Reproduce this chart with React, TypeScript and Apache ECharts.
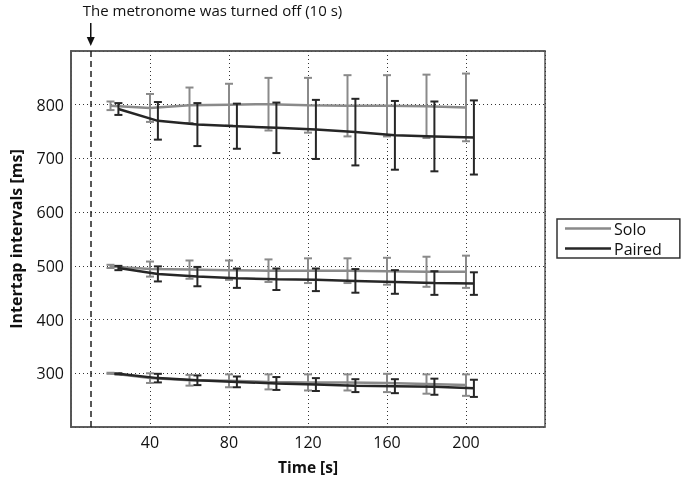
import React, { useEffect, useRef } from "react";
import * as echarts from "echarts";

const soloX = [20, 40, 60, 80, 100, 120, 140, 160, 180, 200];
const pairedX = [24, 44, 64, 84, 104, 124, 144, 164, 184, 204];

const solo800 = [798, 794, 799, 800, 801, 799, 798, 798, 797, 795];
const solo800Err = [8, 26, 33, 39, 49, 51, 57, 57, 59, 63];
const paired800 = [792, 770, 763, 760, 757, 754, 749, 743, 741, 739];
const paired800Err = [11, 35, 40, 42, 47, 55, 62, 64, 65, 69];

const solo500 = [499, 494, 493, 492, 491, 491, 491, 490, 489, 489];
const solo500Err = [3, 14, 17, 18, 21, 23, 23, 25, 28, 30];
const paired500 = [496, 485, 480, 477, 475, 474, 472, 470, 468, 467];
const paired500Err = [4, 14, 18, 18, 20, 21, 22, 22, 22, 21];

const solo300 = [300, 291, 287, 286, 284, 283, 283, 282, 280, 278];
const solo300Err = [1, 9, 10, 12, 14, 15, 15, 17, 18, 20];
const paired300 = [299, 291, 287, 284, 281, 279, 277, 276, 275, 272];
const paired300Err = [1, 8, 9, 10, 12, 12, 12, 13, 15, 16];

const metronomeOff = 10;
const xTicks = [40, 80, 120, 160, 200];
const yTicks = [300, 400, 500, 600, 700, 800];
const titleText = "The metronome was turned off (10 s)";

const FONT = "'Open Sans', sans-serif";
const SOLO = "#8a8a8a";
const PAIRED = "#262626";

function lineSeries(name: string, xs: number[], ys: number[], color: string, z: number) {
  return {
    type: "line",
    name,
    data: xs.map((x, i) => [x, ys[i]]),
    symbol: "none",
    lineStyle: { color, width: 2.5 },
    itemStyle: { color },
    z,
    silent: true,
  };
}

function errSeries(name: string, xs: number[], ys: number[], es: number[], color: string, z: number) {
  return {
    type: "custom",
    name,
    data: xs.map((x, i) => [x, ys[i] - es[i], ys[i] + es[i]]),
    encode: { x: 0, y: [1, 2] },
    z,
    silent: true,
    itemStyle: { color },
    renderItem: (params: any, api: any) => {
      const x = api.value(0);
      const lo = api.coord([x, api.value(1)]);
      const hi = api.coord([x, api.value(2)]);
      const w = 4;
      const st = { stroke: color, lineWidth: 2 };
      return {
        type: "group",
        children: [
          { type: "line", shape: { x1: hi[0], y1: hi[1], x2: lo[0], y2: lo[1] }, style: st },
          { type: "line", shape: { x1: hi[0] - w, y1: hi[1], x2: hi[0] + w, y2: hi[1] }, style: st },
          { type: "line", shape: { x1: lo[0] - w, y1: lo[1], x2: lo[0] + w, y2: lo[1] }, style: st },
        ],
      };
    },
  };
}

export default function App() {
  const ref = useRef<HTMLDivElement>(null);
  useEffect(() => {
    if (!ref.current) return;
    const chart = echarts.init(ref.current, undefined, { renderer: "svg" });
    const frame = "#555";
    const grid = { left: 67, right: 140, top: 51, bottom: 51, show: true, borderColor: frame, borderWidth: 1.5 };
    const dotted = { show: true, lineStyle: { color: "#333", type: [1, 3], width: 1 } };
    chart.setOption({
      animation: false,
      grid,
      legend: {
        data: ["Solo", "Paired"],
        orient: "vertical",
        left: 557,
        top: 219,
        padding: [1, 18, 1, 8],
        itemGap: 3,
        itemWidth: 46,
        itemHeight: 2.5,
        icon: "rect",
        borderColor: "#333",
        borderWidth: 1.5,
        selectedMode: false,
        textStyle: { fontSize: 16, fontFamily: FONT, color: "#111", lineHeight: 17, padding: [0, 0, 0, -2] },
      },
      xAxis: [
        {
          type: "value",
          min: 0,
          max: 240,
          interval: 40,
          name: "Time [s]",
          nameLocation: "middle",
          nameGap: 32,
          nameTextStyle: { fontSize: 15.5, fontWeight: "bold", fontFamily: FONT, color: "#111" },
          axisLine: { show: true, lineStyle: { color: frame, width: 1.5 } },
          axisTick: { show: false },
          axisLabel: {
            fontSize: 16,
            fontFamily: FONT,
            color: "#111",
            margin: 7,
            formatter: (v: number) => (xTicks.includes(v) ? String(v) : ""),
          },
          splitLine: dotted,
        },
        {
          type: "value",
          position: "top",
          min: 0,
          max: 240,
          interval: 40,
          axisLine: { show: true, lineStyle: { color: frame, width: 1.5 } },
          axisTick: { show: false },
          axisLabel: { show: false },
          splitLine: { show: false },
        },
      ],
      yAxis: [
        {
          type: "value",
          min: 200,
          max: 900,
          interval: 100,
          name: "Intertap intervals [ms]",
          nameLocation: "middle",
          nameGap: 47,
          nameTextStyle: { fontSize: 16, fontWeight: "bold", fontFamily: FONT, color: "#111" },
          axisLine: { show: true, lineStyle: { color: frame, width: 1.5 } },
          axisTick: { show: false },
          axisLabel: {
            fontSize: 16,
            fontFamily: FONT,
            color: "#111",
            margin: 7,
            formatter: (v: number) => (yTicks.includes(v) ? String(v) : ""),
          },
          splitLine: dotted,
        },
        {
          type: "value",
          position: "right",
          min: 200,
          max: 900,
          interval: 100,
          axisLine: { show: true, lineStyle: { color: frame, width: 1.5 } },
          axisTick: { show: false },
          axisLabel: { show: false },
          splitLine: { show: false },
        },
      ],
      series: [
        {
          ...lineSeries("Solo", soloX, solo800, SOLO, 3),
          markLine: {
            silent: true,
            symbol: "none",
            label: { show: false },
            lineStyle: { color: "#222", type: [6, 4], width: 1.5 },
            data: [{ xAxis: metronomeOff }],
          },
        },
        lineSeries("Solo", soloX, solo500, SOLO, 3),
        lineSeries("Solo", soloX, solo300, SOLO, 3),
        lineSeries("Paired", pairedX, paired800, PAIRED, 5),
        lineSeries("Paired", pairedX, paired500, PAIRED, 5),
        lineSeries("Paired", pairedX, paired300, PAIRED, 5),
        errSeries("Solo", soloX, solo800, solo800Err, SOLO, 2),
        errSeries("Solo", soloX, solo500, solo500Err, SOLO, 2),
        errSeries("Solo", soloX, solo300, solo300Err, SOLO, 2),
        errSeries("Paired", pairedX, paired800, paired800Err, PAIRED, 4),
        errSeries("Paired", pairedX, paired500, paired500Err, PAIRED, 4),
        errSeries("Paired", pairedX, paired300, paired300Err, PAIRED, 4),
      ],
    });
    const px = chart.convertToPixel({ xAxisIndex: 0 }, metronomeOff) as number;
    const topY = chart.convertToPixel({ yAxisIndex: 0 }, 900) as number;
    chart.setOption({
      graphic: [
        {
          type: "text",
          left: px - 8,
          top: 2,
          style: { text: titleText, fontSize: 15, fontFamily: FONT, fill: "#111" },
        },
        {
          type: "line",
          shape: { x1: px, y1: topY - 28, x2: px, y2: topY - 10 },
          style: { stroke: "#111", lineWidth: 1.5 },
        },
        {
          type: "polygon",
          shape: { points: [[px - 4, topY - 14], [px + 4, topY - 14], [px, topY - 5]] },
          style: { fill: "#111" },
        },
      ],
    });
    return () => chart.dispose();
  }, []);
  return <div ref={ref} style={{ position: "fixed", left: 0, top: 0, width: 685, height: 480 }} />;
}
